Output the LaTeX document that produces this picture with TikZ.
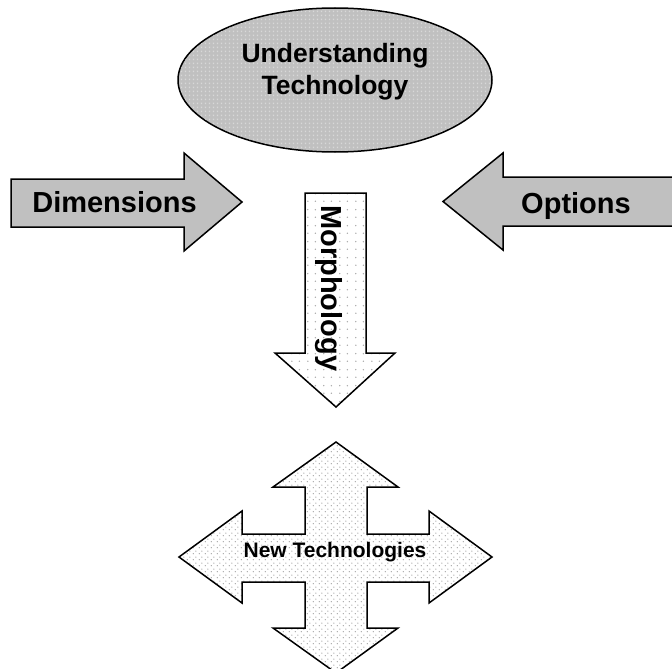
\documentclass[tikz,border=0pt]{standalone}
\usepackage{fontspec}
\setmainfont{Liberation Sans}
\usetikzlibrary{shapes.geometric,patterns}
\pgfdeclarepatternformonly{ellipsedots}{\pgfpointorigin}{\pgfqpoint{4pt}{4pt}}{\pgfqpoint{4pt}{4pt}}{%
  \pgfpathrectangle{\pgfqpoint{1.2pt}{1.2pt}}{\pgfqpoint{1.6pt}{1.6pt}}\pgfusepath{fill}}
\pgfdeclarepatternformonly{sparsedots}{\pgfpointorigin}{\pgfqpoint{16pt}{16pt}}{\pgfqpoint{16pt}{16pt}}{%
  \pgfpathcircle{\pgfqpoint{4pt}{4pt}}{0.8pt}\pgfpathcircle{\pgfqpoint{12pt}{12pt}}{0.8pt}%
  \pgfpathcircle{\pgfqpoint{12pt}{4pt}}{0.8pt}\pgfpathcircle{\pgfqpoint{4pt}{12pt}}{0.8pt}\pgfusepath{fill}}
\pgfdeclarepatternformonly{densedots}{\pgfpointorigin}{\pgfqpoint{6pt}{6pt}}{\pgfqpoint{6pt}{6pt}}{%
  \pgfpathcircle{\pgfqpoint{1.5pt}{1.5pt}}{0.8pt}\pgfpathcircle{\pgfqpoint{4.5pt}{4.5pt}}{0.8pt}\pgfusepath{fill}}
\definecolor{boxgray}{HTML}{C0C0C0}
\definecolor{dotlight}{HTML}{D8D8D8}
\definecolor{dotgray}{HTML}{A8A8A8}
\tikzset{
  outline/.style={draw=black, line width=1.5pt, line join=miter},
  bigtext/.style={font=\bfseries\fontsize{29}{34}\selectfont, inner sep=0pt},
  ovaltext/.style={font=\bfseries\fontsize{26.5}{32}\selectfont, inner sep=0pt, align=center},
  smalltext/.style={font=\bfseries\fontsize{21}{25}\selectfont, inner sep=0pt},
}
\begin{document}
\begin{tikzpicture}[x=1pt, y=-1pt]
\useasboundingbox (0,0) rectangle (672,669);
\clip (0,0) rectangle (672,669);

% ellipse
\node[ellipse, outline, fill=boxgray, minimum width=314pt, minimum height=144pt, inner sep=0pt] (oval) at (335,80) {};
\fill[pattern=ellipsedots, pattern color=dotlight] (335,80) ellipse [x radius=156, y radius=71];
\node[ovaltext, anchor=base] (under) at (335,63) {Understanding};
\node[ovaltext, anchor=base] (tech) at (335,95) {Technology};

% Dimensions arrow
\draw[outline, fill=boxgray] (11,179) -- (184,179) -- (184,153) -- (242,202) -- (184,251) -- (184,227) -- (11,227) -- cycle;
\node[bigtext, anchor=base] (dim) at (114.5,212) {Dimensions};

% Options arrow
\draw[outline, fill=boxgray] (443,201.5) -- (503,153) -- (503,177) -- (690,177) -- (690,226) -- (503,226) -- (503,250) -- cycle;
\node[bigtext, anchor=base] (opt) at (576,213) {Options};

% Morphology arrow
\path[fill=white] (305,193) -- (366,193) -- (366,353) -- (395,353) -- (336,407) -- (275,353) -- (305,353) -- cycle;
\path[pattern=sparsedots, pattern color=dotgray] (305,193) -- (366,193) -- (366,353) -- (395,353) -- (336,407) -- (275,353) -- (305,353) -- cycle;
\draw[outline] (305,193) -- (366,193) -- (366,353) -- (395,353) -- (336,407) -- (275,353) -- (305,353) -- cycle;
\node[bigtext, rotate=-90, anchor=base west] (morph) at (321,205) {Morphology};

% New Technologies cross arrow
\def\crosspath{(336,442) -- (398,487) -- (367,487) -- (367,534) -- (429,534) -- (429,511) -- (492,557) -- (429,603) -- (429,582) -- (367,582) -- (367,628) -- (398,628) -- (336,673) -- (273,628) -- (305,628) -- (305,582) -- (242,582) -- (242,603) -- (179,557) -- (242,511) -- (242,534) -- (305,534) -- (305,487) -- (273,487) -- cycle}
\path[fill=white] \crosspath;
\path[pattern=densedots, pattern color=dotgray] \crosspath;
\draw[outline] \crosspath;
\node[smalltext, anchor=base] (newtech) at (335,557) {New Technologies};
\end{tikzpicture}
\end{document}
